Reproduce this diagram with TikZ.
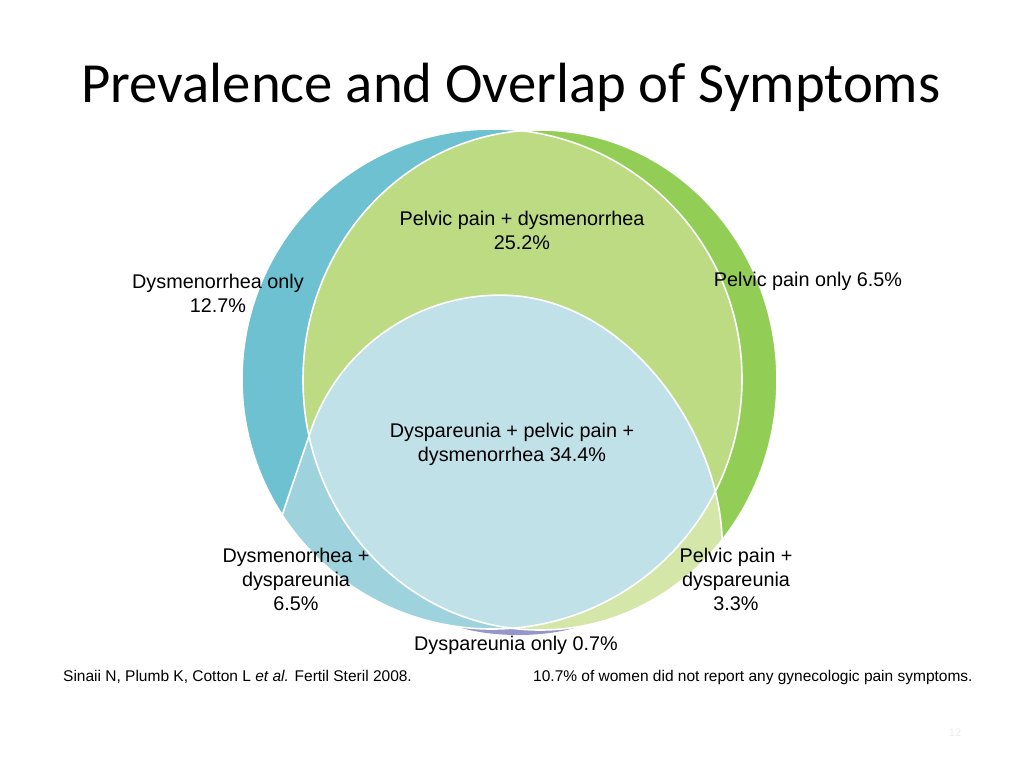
\documentclass[tikz,border=0pt]{standalone}
\usepackage{fontspec}
\setmainfont{Liberation Sans}
\newfontfamily\titlefont{Carlito}
\usepackage{tikz}
\usetikzlibrary{positioning}
\definecolor{DysmOnly}{RGB}{110,193,208}
\definecolor{PelvOnly}{RGB}{146,206,86}
\definecolor{PelvDysm}{RGB}{188,219,131}
\definecolor{AllThree}{RGB}{192,225,232}
\definecolor{DysmDysp}{RGB}{158,210,220}
\definecolor{PelvDysp}{RGB}{212,231,168}
\definecolor{DyspOnly}{RGB}{150,150,205}

\newcommand{\dysmcircle}{(492,379) circle [radius=250pt]}
\newcommand{\pelvicellipse}{(540,380) ellipse [x radius=237pt, y radius=250pt]}
\newcommand{\dyspcurve}{(268,550) -- (283,513) .. controls (287,500) and (303,454) .. (311,430)
  arc [start angle=161, end angle=90, radius=200pt] .. controls (625,295) and (718,430) .. (722,537) -- (728,566)}

\begin{document}
\begin{tikzpicture}[
    x=1pt, y=-1pt,
    region/.style={align=center, inner sep=0pt, font=\fontsize{19.8}{24}\selectfont},
    reftext/.style={anchor=west, inner sep=0pt, font=\fontsize{15.5}{18}\selectfont},
    edge/.style={draw=white, line width=1.6pt}
]
\useasboundingbox[fill=white] (0,0) rectangle (1024,768);

% the three sets
\fill[DyspOnly] (518,603) ellipse [x radius=90pt, y radius=32pt];
\fill[DysmOnly] \dysmcircle;
\fill[PelvOnly] \pelvicellipse;
\begin{scope}
  \clip \dysmcircle;
  \fill[PelvDysm] \pelvicellipse;
\end{scope}
\begin{scope}
  \clip \dyspcurve -- (800,700) -- (200,700) -- cycle;
  \fill[DysmDysp] \dysmcircle;
  \fill[PelvDysp] \pelvicellipse;
  \clip \dysmcircle;
  \fill[AllThree] \pelvicellipse;
\end{scope}
\draw[edge] \dysmcircle;
\draw[edge] \pelvicellipse;
\draw[edge] \dyspcurve;

\node[anchor=base, inner sep=0pt, font=\titlefont\fontsize{56.7}{66}\selectfont] (title) at (511,102) {Prevalence and Overlap of Symptoms};

\node[region] (pelvdysm) at (522,230) {Pelvic pain + dysmenorrhea\\25.2\%};
\node[region] (dysmonly) at (218,293) {Dysmenorrhea only\\12.7\%};
\node[region] (pelvonly) at (808,281) {Pelvic pain only 6.5\%};
\node[region] (allthree) at (512,444) {Dyspareunia + pelvic pain +\\dysmenorrhea 34.4\%};
\node[region] (dysmdysp) at (296,579) {Dysmenorrhea +\\dyspareunia\\6.5\%};
\node[region] (pelvdysp) at (736,579) {Pelvic pain +\\dyspareunia\\3.3\%};
\node[region] (dysponly) at (516,645) {Dyspareunia only 0.7\%};

\node[reftext] (source) at (63,677) {Sinaii N, Plumb K, Cotton L \textit{et al.} Fertil Steril 2008.};
\node[reftext] (note) at (533,677) {10.7\% of women did not report any gynecologic pain symptoms.};
\node[inner sep=0pt, text=black!8, font=\fontsize{11}{13}\selectfont] (page) at (955,733) {12};
\end{tikzpicture}
\end{document}
